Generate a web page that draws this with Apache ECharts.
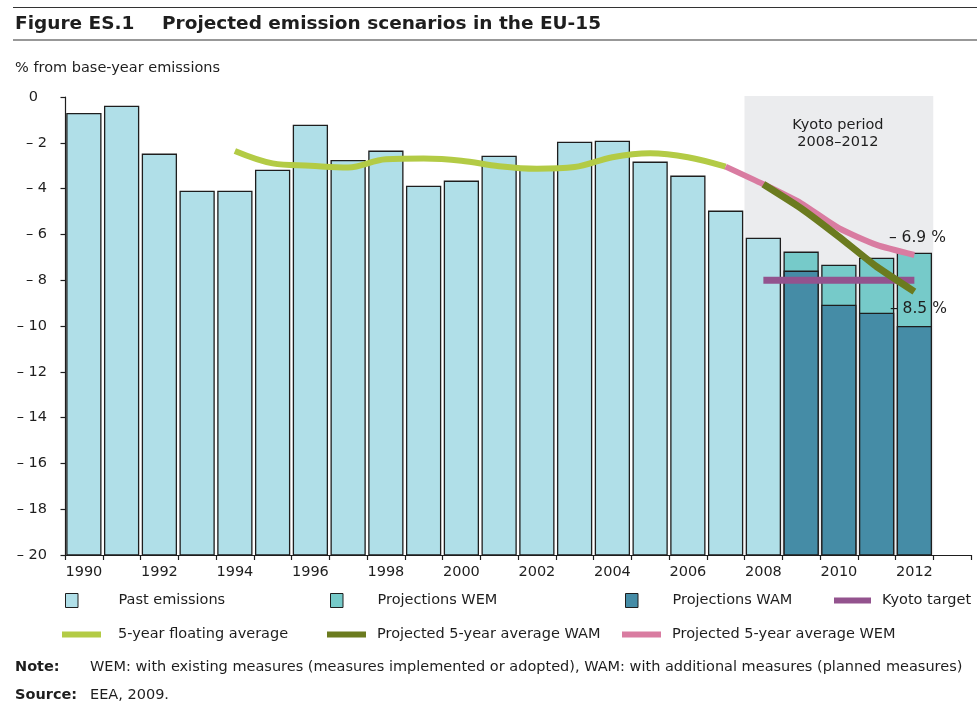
<!DOCTYPE html>
<html>
<head>
<meta charset="utf-8">
<script src="https://cdn.jsdelivr.net/npm/echarts@6/dist/echarts.min.js"></script>
<style>
html,body{margin:0;padding:0;background:#ffffff;}
#chart{width:977px;height:710px;}
</style>
</head>
<body>
<div id="chart"></div>
<script>
// ---------- data ----------
const years = ['1990','1991','1992','1993','1994','1995','1996','1997','1998','1999','2000','2001',
               '2002','2003','2004','2005','2006','2007','2008','2009','2010','2011','2012','2013'];
const yTicks = [0, -2, -4, -6, -8, -10, -12, -14, -16, -18, -20];

const pastEmissions = [-0.73, -0.41, -2.50, -4.12, -4.12, -3.20, -1.24, -2.78, -2.37, -3.90, -3.68, -2.59,
                       -3.12, -1.98, -1.94, -2.85, -3.46, -4.99, -6.17, null, null, null, null, null];
const projectionsWEM = [null, null, null, null, null, null, null, null, null, null, null, null,
                        null, null, null, null, null, null, null, -6.78, -7.35, -7.05, -6.83, null];
const projectionsWAM = [null, null, null, null, null, null, null, null, null, null, null, null,
                        null, null, null, null, null, null, null, -7.61, -9.10, -9.45, -10.03, null];
const kyotoTarget = [null, null, null, null, null, null, null, null, null, null, null, null,
                     null, null, null, null, null, null, -8, -8, -8, -8, -8, null];
const floatingAverage = [null, null, null, null, -2.36, -2.90, -3.00, -3.08, -2.72, -2.69, -2.78, -3.02,
                         -3.13, -3.06, -2.63, -2.46, -2.63, -3.04, null, null, null, null, null, null];
const projAverageWAM = [null, null, null, null, null, null, null, null, null, null, null, null,
                        null, null, null, null, null, null, -3.81, -4.86, -6.10, -7.41, -8.50, null];
const projAverageWEM = [null, null, null, null, null, null, null, null, null, null, null, null,
                        null, null, null, null, null, -3.04, -3.81, -4.64, -5.73, -6.46, -6.90, null];
const kyotoPeriod = ['2008', '2012'];

// ---------- styling ----------
const FONT = '"DejaVu Sans", Verdana, sans-serif';
const FS = 14.5;
const TXT = '#1e1e1e';
const C_PAST = '#b0dfe8', C_WEM = '#76cac9', C_WAM = '#458ca6';
const C_KYOTO = '#93538e', C_FLOAT = '#b3cb45', C_AVGWAM = '#6b7b1f', C_AVGWEM = '#d97ca1';
const Y_MIN = -20, Y_MAX = 0;

function toPairs(arr) {
  const out = [];
  arr.forEach((v, i) => { if (v !== null) out.push([i, v]); });
  return out;
}

function barSeries(name, arr, fill, z) {
  return {
    name: name,
    type: 'custom',
    z: z,
    itemStyle: { color: fill, borderColor: '#1e1e1e', borderWidth: 1 },
    encode: { x: 0, y: 1 },
    data: toPairs(arr),
    renderItem: function (params, api) {
      const i = api.value(0), v = api.value(1);
      const top = api.coord([i, v]);
      const base = api.coord([i, Y_MIN]);
      const bw = api.size([1, 0])[0] * 0.9;
      return {
        type: 'rect',
        shape: { x: top[0] - bw / 2, y: top[1], width: bw, height: base[1] - top[1] },
        style: { fill: fill, stroke: '#1e1e1e', lineWidth: 1.3 }
      };
    }
  };
}

function lineSeries(name, arr, color, width, smooth, z) {
  return {
    name: name,
    type: 'line',
    z: z,
    data: arr,
    symbol: 'none',
    smooth: smooth,
    connectNulls: false,
    color: color,
    itemStyle: { color: color },
    lineStyle: { color: color, width: width },
    emphasis: { disabled: true }
  };
}

function legendItem(name, left, cy, w, h, textLeft, itemStyle) {
  return {
    data: [{ name: name, icon: 'rect', itemStyle: itemStyle }],
    left: left, top: cy - 9, padding: 0,
    itemWidth: w, itemHeight: h,
    selectedMode: false,
    textStyle: { fontFamily: FONT, fontSize: FS, color: TXT, padding: [0, 0, 0, textLeft - left - w - 5] }
  };
}

const kyotoBg = {
  type: 'custom',
  z: 1,
  silent: true,
  data: [[years.indexOf(kyotoPeriod[0]), Y_MAX]],
  encode: { x: 0, y: 1 },
  renderItem: function (params, api) {
    const i0 = years.indexOf(kyotoPeriod[0]), i1 = years.indexOf(kyotoPeriod[1]);
    const band = api.size([1, 0])[0];
    const p0 = api.coord([i0, Y_MAX]);
    const p1 = api.coord([i1, Y_MIN]);
    const x0 = p0[0] - band / 2, x1 = p1[0] + band / 2;
    return {
      type: 'group',
      children: [
        { type: 'rect', shape: { x: x0, y: p0[1] - 1, width: x1 - x0, height: p1[1] - p0[1] + 1 },
          style: { fill: '#ebecee' } },
        { type: 'text', x: (x0 + x1) / 2 - 1, y: p0[1] + 36.5,
          style: { text: 'Kyoto period\n' + kyotoPeriod[0] + '–' + kyotoPeriod[1], fill: TXT,
                   font: FS + 'px ' + FONT, align: 'center', verticalAlign: 'middle', lineHeight: 17 } }
      ]
    };
  }
};

function endMark(arr, idx, position, distance, offset) {
  return {
    symbol: 'circle', symbolSize: 1, silent: true,
    itemStyle: { color: 'rgba(0,0,0,0)' },
    label: { show: true, position: position, distance: distance, offset: offset,
             fontFamily: FONT, fontSize: 15.5, color: TXT,
             formatter: p => '– ' + Math.abs(p.value).toFixed(1) + ' %' },
    data: [{ coord: [years[idx], arr[idx]], value: arr[idx] }]
  };
}

const wemAvgSeries = lineSeries('Projected 5-year average WEM', projAverageWEM, C_AVGWEM, 6, 0.2, 5);
wemAvgSeries.markPoint = endMark(projAverageWEM, 22, 'top', 8.5, [3, 0]);
const wamAvgSeries = lineSeries('Projected 5-year average WAM', projAverageWAM, C_AVGWAM, 7, 0.15, 6);
wamAvgSeries.markPoint = endMark(projAverageWAM, 22, 'bottom', 9, [4, 0]);

const option = {
  animation: false,
  backgroundColor: '#ffffff',
  textStyle: { fontFamily: FONT },
  grid: { left: 65, right: 6, top: 97, bottom: 155, containLabel: false },
  xAxis: {
    type: 'category',
    data: years,
    boundaryGap: true,
    axisLine: { show: true, onZero: false, lineStyle: { color: '#1e1e1e', width: 1.2 } },
    axisTick: { show: true, interval: 0, length: 5, lineStyle: { color: '#1e1e1e', width: 1.2 } },
    axisLabel: { interval: 1, margin: 10, fontFamily: FONT, fontSize: FS, color: TXT },
    splitLine: { show: false }
  },
  yAxis: {
    type: 'value',
    min: Y_MIN, max: Y_MAX, interval: 2,
    axisLine: { show: true, onZero: false, lineStyle: { color: '#1e1e1e', width: 1.2 } },
    axisTick: { show: true, length: 4.5, lineStyle: { color: '#1e1e1e', width: 1.2 } },
    axisLabel: {
      margin: 18, fontFamily: FONT, fontSize: FS, color: TXT,
      formatter: v => (yTicks.indexOf(v) < 0 ? '' : (v === 0 ? '{z|0}' : '– ' + Math.abs(v))),
      rich: { z: { fontFamily: FONT, fontSize: FS, color: TXT, padding: [0, 9, 0, 0] } }
    },
    splitLine: { show: false }
  },
  legend: [
    legendItem('Past emissions', 65, 602, 12.5, 14, 118, { color: C_PAST, borderColor: '#1e1e1e', borderWidth: 1 }),
    legendItem('Projections WEM', 330, 602, 12.5, 14, 377, { color: C_WEM, borderColor: '#1e1e1e', borderWidth: 1 }),
    legendItem('Projections WAM', 625, 602, 12.5, 14, 672, { color: C_WAM, borderColor: '#1e1e1e', borderWidth: 1 }),
    legendItem('Kyoto target', 834, 602, 37, 6, 882, { color: C_KYOTO, borderWidth: 0 }),
    legendItem('5-year floating average', 62, 636, 39, 6, 118, { color: C_FLOAT, borderWidth: 0 }),
    legendItem('Projected 5-year average WAM', 327, 636, 39, 6, 377, { color: C_AVGWAM, borderWidth: 0 }),
    legendItem('Projected 5-year average WEM', 622, 636, 39, 6, 672, { color: C_AVGWEM, borderWidth: 0 })
  ],
  graphic: [
    { type: 'line', shape: { x1: 13, y1: 7.5, x2: 977, y2: 7.5 }, style: { stroke: '#333', lineWidth: 1.2 } },
    { type: 'line', shape: { x1: 13, y1: 40, x2: 977, y2: 40 }, style: { stroke: '#333', lineWidth: 1.2 } },
    { type: 'text', x: 15, y: 24.5, style: { text: 'Figure ES.1', font: 'bold 18.5px ' + FONT, fill: TXT, verticalAlign: 'middle' } },
    { type: 'text', x: 162, y: 24.5, style: { text: 'Projected emission scenarios in the EU-15', font: 'bold 18.5px ' + FONT, fill: TXT, verticalAlign: 'middle' } },
    { type: 'text', x: 15, y: 68, style: { text: '% from base-year emissions', font: FS + 'px ' + FONT, fill: TXT, verticalAlign: 'middle' } },
    { type: 'text', x: 15, y: 667, style: { text: 'Note:', font: 'bold ' + FS + 'px ' + FONT, fill: TXT, verticalAlign: 'middle' } },
    { type: 'text', x: 90, y: 667, style: { text: 'WEM: with existing measures (measures implemented or adopted), WAM: with additional measures (planned measures)', font: FS + 'px ' + FONT, fill: TXT, verticalAlign: 'middle' } },
    { type: 'text', x: 15, y: 695, style: { text: 'Source:', font: 'bold ' + FS + 'px ' + FONT, fill: TXT, verticalAlign: 'middle' } },
    { type: 'text', x: 90, y: 695, style: { text: 'EEA, 2009.', font: FS + 'px ' + FONT, fill: TXT, verticalAlign: 'middle' } }
  ],
  series: [
    kyotoBg,
    barSeries('Past emissions', pastEmissions, C_PAST, 2),
    barSeries('Projections WEM', projectionsWEM, C_WEM, 2),
    barSeries('Projections WAM', projectionsWAM, C_WAM, 3),
    lineSeries('Kyoto target', kyotoTarget, C_KYOTO, 7, false, 4),
    lineSeries('5-year floating average', floatingAverage, C_FLOAT, 6, 0.35, 5),
    wemAvgSeries,
    wamAvgSeries
  ]
};

const chart = echarts.init(document.getElementById('chart'), null, { renderer: 'canvas' });
chart.setOption(option);
</script>
</body>
</html>
